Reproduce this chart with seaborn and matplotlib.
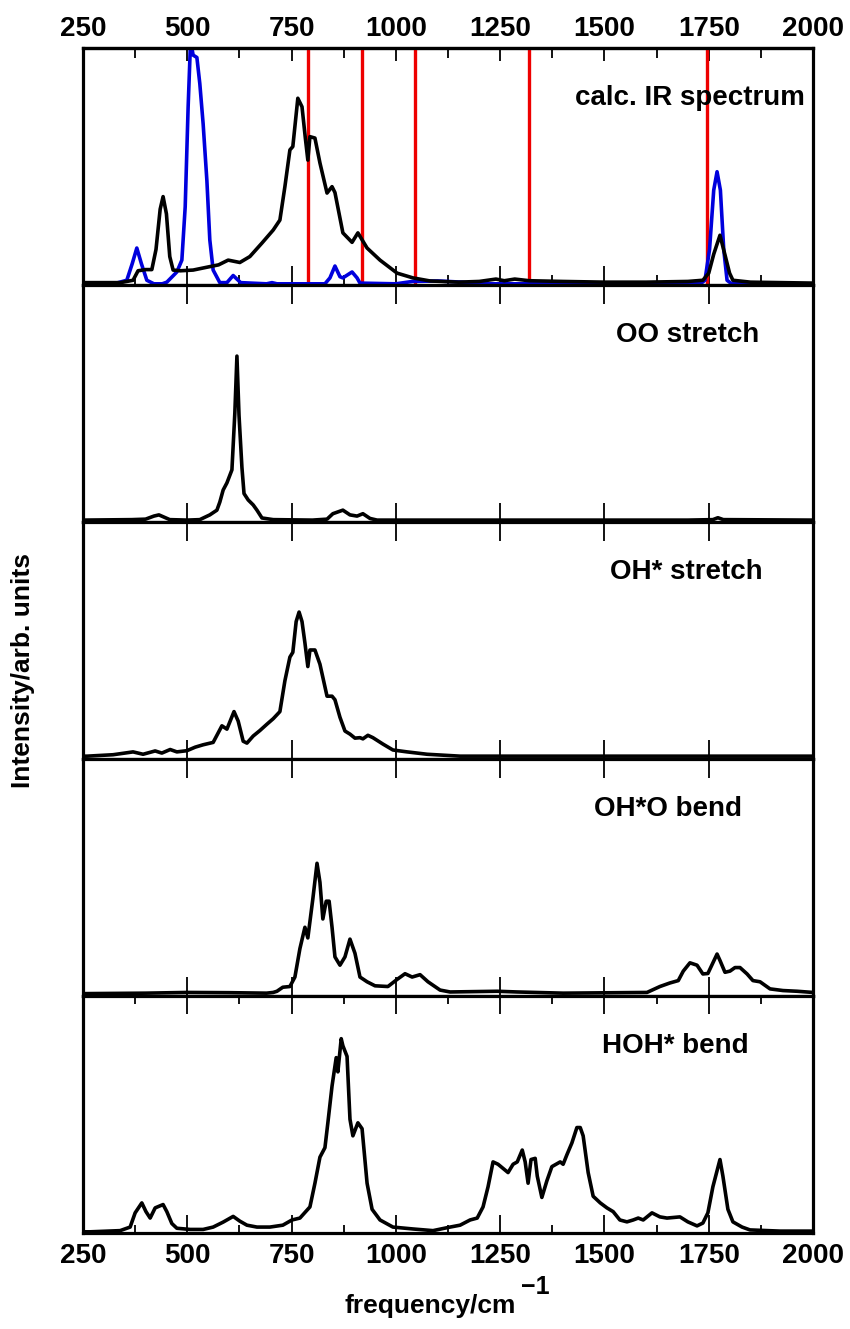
import numpy as np
import pandas as pd
import matplotlib
matplotlib.use("Agg")
import matplotlib.pyplot as plt
from matplotlib.ticker import FixedLocator, NullLocator
import seaborn as sns

# ---------------- data ----------------
ir_x = [250, 340, 370, 382, 400, 415, 425, 435, 442, 450, 458, 466, 483, 514, 547, 575, 598, 626, 650,
        679, 706, 722, 734, 746, 753, 765, 775, 783, 789, 794, 806, 818, 835, 847, 854, 873, 895, 909,
        931, 962, 1003, 1041, 1082, 1150, 1200, 1240, 1260, 1285, 1320, 1400, 1500, 1600, 1700, 1736,
        1750, 1762, 1777, 1790, 1800, 1808, 1850, 2000]
ir_y = [0.01, 0.01, 0.02, 0.06, 0.065, 0.065, 0.15, 0.32, 0.373, 0.30, 0.12, 0.063, 0.06, 0.063, 0.075,
        0.085, 0.105, 0.095, 0.12, 0.177, 0.232, 0.274, 0.415, 0.57, 0.584, 0.788, 0.752, 0.62, 0.527,
        0.626, 0.62, 0.515, 0.388, 0.415, 0.39, 0.22, 0.18, 0.22, 0.156, 0.105, 0.05, 0.03, 0.017,
        0.012, 0.015, 0.025, 0.018, 0.025, 0.018, 0.015, 0.012, 0.012, 0.015, 0.02, 0.05, 0.13, 0.21,
        0.12, 0.05, 0.02, 0.012, 0.008]

blue_x = [250, 330, 355, 368, 379, 390, 403, 420, 440, 451, 475, 487, 495, 502, 507, 511, 514, 523, 530,
          538, 547, 554, 562, 578, 595, 610, 628, 690, 703, 715, 830, 842, 854, 866, 873, 895, 907, 914,
          1000, 1040, 1100, 1160, 1200, 1730, 1741, 1752, 1762, 1770, 1778, 1786, 1794, 1805, 2000]
blue_y = [0.005, 0.008, 0.02, 0.09, 0.156, 0.09, 0.02, 0.005, 0.005, 0.012, 0.055, 0.105, 0.33, 0.75,
          0.99, 1.0, 0.97, 0.96, 0.85, 0.68, 0.44, 0.19, 0.063, 0.01, 0.01, 0.04, 0.01, 0.005, 0.01,
          0.005, 0.005, 0.03, 0.08, 0.035, 0.03, 0.055, 0.03, 0.008, 0.005, 0.015, 0.017, 0.012, 0.005,
          0.005, 0.02, 0.15, 0.40, 0.478, 0.40, 0.15, 0.02, 0.005, 0.005]

red_lines = [790, 920, 1045, 1318, 1745]

oo_x = [250, 367, 400, 420, 432, 445, 458, 500, 530, 554, 571, 578, 586, 595, 607, 614, 619, 624, 631,
        636, 646, 658, 667, 679, 706, 800, 835, 849, 873, 890, 907, 921, 938, 955, 1700, 1760, 1772,
        1785, 2000]
oo_y = [0.008, 0.01, 0.012, 0.025, 0.03, 0.02, 0.01, 0.008, 0.01, 0.03, 0.05, 0.084, 0.135, 0.165,
        0.22, 0.46, 0.70, 0.45, 0.23, 0.12, 0.093, 0.072, 0.05, 0.017, 0.01, 0.008, 0.012, 0.035,
        0.05, 0.03, 0.025, 0.035, 0.015, 0.008, 0.008, 0.01, 0.018, 0.01, 0.008]

ohs_x = [250, 260, 322, 370, 394, 423, 439, 459, 475, 499, 519, 538, 562, 583, 595, 612, 622, 634, 643,
         658, 674, 691, 706, 722, 734, 746, 753, 761, 768, 775, 782, 789, 794, 806, 818, 835, 847, 854,
         866, 878, 890, 902, 914, 921, 933, 945, 969, 993, 1027, 1075, 1154, 1400, 1700, 2000]
ohs_y = [0.012, 0.012, 0.018, 0.03, 0.02, 0.034, 0.025, 0.04, 0.03, 0.035, 0.05, 0.06, 0.07, 0.14,
         0.126, 0.20, 0.16, 0.075, 0.067, 0.097, 0.12, 0.147, 0.17, 0.20, 0.33, 0.43, 0.45, 0.58,
         0.62, 0.58, 0.49, 0.39, 0.46, 0.46, 0.40, 0.265, 0.265, 0.25, 0.176, 0.118, 0.105, 0.088,
         0.09, 0.085, 0.10, 0.09, 0.063, 0.038, 0.03, 0.02, 0.012, 0.012, 0.012, 0.012]

oho_x = [250, 400, 500, 600, 690, 706, 715, 729, 746, 758, 770, 782, 789, 801, 811, 818, 825, 833, 840,
         847, 854, 866, 878, 890, 902, 914, 931, 950, 981, 1003, 1022, 1039, 1058, 1077, 1106, 1130,
         1243, 1291, 1401, 1602, 1633, 1657, 1677, 1689, 1705, 1722, 1736, 1748, 1770, 1777, 1789,
         1801, 1813, 1825, 1842, 1856, 1873, 1897, 1928, 1962, 2000]
oho_y = [0.01, 0.012, 0.015, 0.014, 0.012, 0.015, 0.02, 0.037, 0.04, 0.08, 0.20, 0.29, 0.245, 0.41,
         0.56, 0.48, 0.325, 0.40, 0.40, 0.29, 0.165, 0.13, 0.165, 0.24, 0.18, 0.08, 0.06, 0.043, 0.04,
         0.07, 0.094, 0.08, 0.09, 0.06, 0.025, 0.017, 0.02, 0.017, 0.012, 0.015, 0.04, 0.055, 0.065,
         0.105, 0.14, 0.13, 0.093, 0.095, 0.177, 0.15, 0.10, 0.105, 0.12, 0.12, 0.093, 0.065, 0.06,
         0.03, 0.023, 0.02, 0.015]

hoh_x = [250, 267, 339, 363, 375, 391, 401, 411, 423, 442, 451, 463, 475, 507, 538, 562, 586, 610, 626,
         643, 667, 698, 729, 751, 770, 794, 806, 818, 830, 837, 847, 857, 861, 869, 873, 883, 890, 897,
         909, 919, 931, 943, 962, 993, 1041, 1089, 1130, 1154, 1178, 1195, 1209, 1221, 1233, 1245,
         1269, 1281, 1291, 1303, 1310, 1317, 1324, 1334, 1339, 1350, 1362, 1374, 1394, 1401, 1410,
         1422, 1434, 1442, 1449, 1461, 1473, 1490, 1506, 1521, 1537, 1554, 1569, 1581, 1593, 1614,
         1633, 1650, 1681, 1700, 1722, 1736, 1748, 1760, 1777, 1784, 1796, 1808, 1830, 1849, 1921, 2000]
hoh_y = [0.005, 0.005, 0.01, 0.025, 0.085, 0.127, 0.09, 0.063, 0.106, 0.12, 0.09, 0.04, 0.02, 0.015,
         0.015, 0.025, 0.046, 0.07, 0.05, 0.033, 0.025, 0.025, 0.033, 0.055, 0.063, 0.11, 0.21, 0.32,
         0.36, 0.465, 0.62, 0.74, 0.68, 0.82, 0.79, 0.745, 0.48, 0.41, 0.465, 0.44, 0.21, 0.10, 0.055,
         0.025, 0.017, 0.01, 0.025, 0.033, 0.055, 0.063, 0.11, 0.195, 0.30, 0.29, 0.255, 0.29, 0.30,
         0.35, 0.30, 0.21, 0.31, 0.315, 0.24, 0.15, 0.22, 0.28, 0.30, 0.29, 0.33, 0.38, 0.445, 0.445,
         0.41, 0.255, 0.155, 0.127, 0.106, 0.09, 0.055, 0.047, 0.055, 0.063, 0.055, 0.085, 0.068,
         0.063, 0.068, 0.047, 0.03, 0.042, 0.085, 0.195, 0.31, 0.24, 0.10, 0.047, 0.025, 0.013,
         0.008, 0.008]

panel_labels = ["calc. IR spectrum", "OO stretch", "OH* stretch", "OH*O bend", "HOH* bend"]
label_x = [1705, 1700, 1696, 1652, 1669]
major_ticks = [250, 500, 750, 1000, 1250, 1500, 1750, 2000]
minor_ticks = [375, 625, 875, 1125, 1375, 1625, 1875]
xlabel = "frequency/cm"
xlabel_sup = "\u22121"
ylabel = "Intensity/arb. units"

# ---------------- style ----------------
sns.set_theme(style="white")
plt.rcParams["font.family"] = ["Liberation Sans", "DejaVu Sans"]
plt.rcParams["font.weight"] = "bold"
plt.rcParams["text.color"] = "black"
plt.rcParams["axes.labelcolor"] = "black"
plt.rcParams["xtick.color"] = "black"
plt.rcParams["ytick.color"] = "black"
plt.rcParams["axes.edgecolor"] = "black"

fig, axes = plt.subplots(5, 1, figsize=(8.5, 13.29), dpi=100)
fig.subplots_adjust(left=83 / 850, right=813 / 850, bottom=1 - 1233 / 1329, top=1 - 48 / 1329, hspace=0)

LW = 2.6
SPW = 2.3
series = [
    [(ir_x, ir_y, "black")],
    [(oo_x, oo_y, "black")],
    [(ohs_x, ohs_y, "black")],
    [(oho_x, oho_y, "black")],
    [(hoh_x, hoh_y, "black")],
]

for i, ax in enumerate(axes):
    if i == 0:
        for xv in red_lines:
            ax.axvline(xv, color="#ee0000", lw=2.4, zorder=1)
        sns.lineplot(x=blue_x, y=blue_y, ax=ax, color="#0000dd", lw=LW, zorder=3)
    for xs, ys, c in series[i]:
        df = pd.DataFrame({"x": xs, "y": ys})
        sns.lineplot(data=df, x="x", y="y", ax=ax, color=c, lw=LW, zorder=4)
    ax.set_xlim(250, 2000)
    ax.set_ylim(0, 1.0)
    ax.set_yticks([])
    ax.set_xlabel("")
    ax.set_ylabel("")
    for sp in ax.spines.values():
        sp.set_linewidth(SPW)
        sp.set_color("black")
        sp.set_visible(True)
        sp.set_zorder(10)
    ax.xaxis.set_major_locator(FixedLocator(major_ticks))
    ax.text(label_x[i], 0.79, panel_labels[i], transform=ax.get_xaxis_transform(),
            ha="center", va="center", fontsize=20, fontweight="bold", color="black", zorder=6)

    if i == 0:
        ax.xaxis.set_minor_locator(FixedLocator(minor_ticks))
        ax.tick_params(axis="x", which="major", direction="in", length=14, width=1.3,
                       bottom=True, top=False, labelbottom=False, labeltop=False, color="black")
        ax.tick_params(axis="x", which="minor", direction="in", length=7, width=1.3,
                       bottom=True, top=False, color="black")
        sec = ax.secondary_xaxis("top")
        sec.set_xticks(major_ticks)
        sec.set_xticks(minor_ticks, minor=True)
        sec.tick_params(axis="x", which="major", direction="in", length=9, width=1.3,
                        labelsize=20, pad=4, color="black", labelcolor="black")
        sec.tick_params(axis="x", which="minor", direction="in", length=7, width=1.3, color="black")
        for lab in sec.get_xticklabels():
            lab.set_fontweight("bold")
        sec.spines["top"].set_linewidth(SPW)
    elif i == 4:
        ax.xaxis.set_minor_locator(FixedLocator(minor_ticks))
        ax.tick_params(axis="x", which="major", direction="in", length=13, width=1.3,
                       bottom=True, top=True, labelbottom=True, labelsize=20, pad=7,
                       color="black", labelcolor="black")
        ax.tick_params(axis="x", which="minor", direction="in", length=6, width=1.3,
                       bottom=True, top=True, color="black")
        for lab in ax.get_xticklabels():
            lab.set_fontweight("bold")
    else:
        ax.xaxis.set_minor_locator(NullLocator())
        ax.tick_params(axis="x", which="major", direction="in", length=14, width=1.3,
                       bottom=True, top=True, labelbottom=False, color="black")

fig.text(23 / 850, 1 - 670 / 1329, ylabel, rotation=90, ha="center", va="center",
         fontsize=19, fontweight="bold", color="black")
fig.text(430 / 850, 1 - 1306 / 1329, xlabel, ha="center", va="center", fontsize=19,
         fontweight="bold", color="black")
fig.text(535 / 850, 1 - 1287 / 1329, xlabel_sup, ha="center", va="center", fontsize=18,
         fontweight="bold", color="black")

fig.savefig("out.png", dpi=100)
